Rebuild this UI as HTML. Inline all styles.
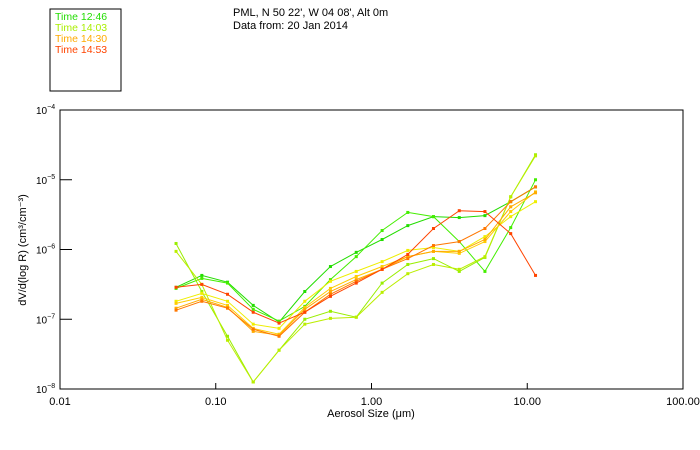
<!DOCTYPE html>
<html><head><meta charset="utf-8">
<style>
html,body{margin:0;padding:0;background:#fff;}
svg{display:block;font-family:"Liberation Sans",sans-serif;}
</style></head>
<body>
<svg id="chart" width="700" height="450" viewBox="0 0 700 450">
  <rect x="50" y="9" width="71" height="82" fill="none" stroke="#000" stroke-width="1"/>
  <g font-size="10.5">
    <text x="55" y="20" fill="#22dd00">Time 12:46</text>
    <text x="55" y="31" fill="#aaee00">Time 14:03</text>
    <text x="55" y="42" fill="#ffaa00">Time 14:30</text>
    <text x="55" y="53" fill="#ff4400">Time 14:53</text>
  </g>
  <text x="233" y="16" font-size="11">PML, N 50 22', W 04 08', Alt 0m</text>
  <text x="233" y="29" font-size="11">Data from: 20 Jan 2014</text>
  <rect x="60" y="110" width="623" height="279" fill="none" stroke="#000" stroke-width="1"/>
  <g id="axes"></g>
  <g id="series"></g>
  <text x="371" y="417" font-size="11" text-anchor="middle">Aerosol Size (μm)</text>
  <text transform="translate(26,250) rotate(-90)" font-size="11" text-anchor="middle">dV/d(log R) (cm³/cm⁻³)</text>
</svg>
<script>
const sizes = [0.0556,0.0814,0.119,0.174,0.255,0.373,0.545,0.798,1.17,1.71,2.50,3.66,5.35,7.83,11.3];
const s1 = [2.87e-7,4.25e-7,3.4e-7,1.58e-7,9.1e-8,2.5e-7,5.7e-7,9.1e-7,1.39e-6,2.2e-6,2.96e-6,2.87e-6,3.06e-6,4.85e-6,7.9e-6];
const s2 = [2.77e-7,3.85e-7,3.3e-7,1.39e-7,9.4e-8,1.53e-7,3.7e-7,7.9e-7,1.87e-6,3.4e-6,2.96e-6,1.3e-6,4.85e-7,2.06e-6,1.0e-5];
const s3 = [1.22e-6,2.5e-7,5.7e-8,1.26e-8,3.6e-8,1.0e-7,1.3e-7,1.07e-7,3.3e-7,6.1e-7,7.4e-7,4.85e-7,7.7e-7,5.7e-6,2.28e-5];
const s4 = [9.4e-7,3.16e-7,5.0e-8,1.26e-8,3.6e-8,8.5e-8,1.03e-7,1.07e-7,2.43e-7,4.5e-7,6.1e-7,5.2e-7,7.9e-7,5.7e-6,2.2e-5];
const s5 = [1.81e-7,2.35e-7,1.81e-7,8.5e-8,7.4e-8,1.81e-7,3.5e-7,4.85e-7,6.7e-7,9.7e-7,1.07e-6,9.4e-7,1.53e-6,2.96e-6,4.85e-6];
const s6 = [1.69e-7,2.06e-7,1.58e-7,7.4e-8,6.1e-8,1.48e-7,2.77e-7,4.1e-7,5.7e-7,7.9e-7,9.4e-7,8.8e-7,1.3e-6,3.5e-6,6.7e-6];
const s7 = [1.44e-7,1.93e-7,1.48e-7,6.7e-8,5.9e-8,1.39e-7,2.5e-7,3.7e-7,5.2e-7,7.9e-7,9.4e-7,9.4e-7,1.39e-6,4.1e-6,6.5e-6];
const s8 = [1.35e-7,1.81e-7,1.44e-7,7.2e-8,5.7e-8,1.26e-7,2.28e-7,3.5e-7,5.2e-7,7.4e-7,1.14e-6,1.3e-6,2.0e-6,4.85e-6,7.9e-6];
const s9 = [2.87e-7,3.16e-7,2.28e-7,1.26e-7,8.8e-8,1.26e-7,2.13e-7,3.3e-7,5.2e-7,8.5e-7,2.0e-6,3.6e-6,3.5e-6,1.69e-6,4.25e-7];
const seriesList = [s1,s2,s3,s4,s5,s6,s7,s8,s9];
const seriesColors = ["#22dd00","#44ee00","#99ee00","#bbee00","#eeee00","#ffcc00","#ffaa00","#ff7700","#ff4400"];
const xTickValues = [0.01,0.1,1,10,100];
const xTickLabels = ["0.01","0.10","1.00","10.00","100.00"];
const yTickExps = [-4,-5,-6,-7,-8];

const NS="http://www.w3.org/2000/svg";
const X0=60,X1=683,Y0=110,Y1=389;
function xScale(v){return X0+(Math.log10(v)+2)/4*(X1-X0);}
function yScale(v){return Y0+(-4-Math.log10(v))/4*(Y1-Y0);}
function mk(tag,attrs,parent){const e=document.createElementNS(NS,tag);for(const k in attrs)e.setAttribute(k,attrs[k]);parent.appendChild(e);return e;}
const axes=document.getElementById('axes');
xTickValues.forEach((v,i)=>{
  const x=xScale(v);
  if(i>0&&i<xTickValues.length-1){
    const t=mk('line',{x1:x,x2:x,y1:Y1,y2:Y1-6,stroke:'#000'},axes);
    
    
  }
  const l=mk('text',{x:x,y:Y1+16,'font-size':11,'text-anchor':'middle'},axes);
  l.textContent=xTickLabels[i];
  
  
});
yTickExps.forEach((e,i)=>{
  const y=yScale(Math.pow(10,e));
  if(i>0&&i<yTickExps.length-1){
    const t=mk('line',{x1:X0,x2:X0+12,y1:y,y2:y,stroke:'#000'},axes);
    
    
  }
  const l=mk('text',{x:X0-24,y:y+4,'font-size':10},axes);
  l.textContent='10';
  const s=mk('tspan',{dy:-5,'font-size':7},l);
  s.textContent=String(e).replace('-','−');
  
  
});
const sg=document.getElementById('series');
seriesList.forEach((vals,si)=>{
  const g=mk('g',{},sg);
  
  
  const pts=vals.map((v,i)=>xScale(sizes[i]).toFixed(1)+','+yScale(v).toFixed(1)).join(' ');
  const pl=mk('polyline',{points:pts,fill:'none',stroke:seriesColors[si],'stroke-width':1},g);
  
  
  vals.forEach((v,i)=>{
    const r=mk('rect',{x:xScale(sizes[i])-1.5,y:yScale(v)-1.5,width:3,height:3,fill:seriesColors[si]},g);
    
    
  });
});
</script>
</body></html>
